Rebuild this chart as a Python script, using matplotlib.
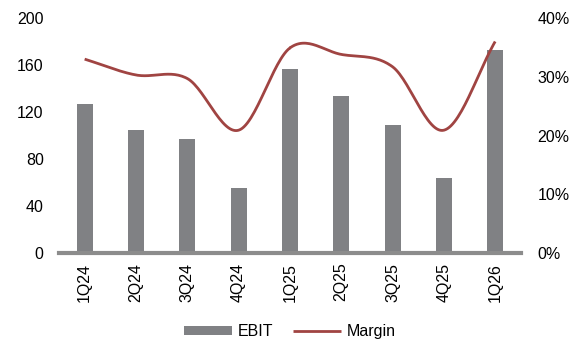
import numpy as np
import matplotlib
matplotlib.use("Agg")
import matplotlib.pyplot as plt
from matplotlib.ticker import FuncFormatter

plt.rcParams['font.family'] = ['Liberation Sans', 'DejaVu Sans']

# data
quarters = ['1Q24', '2Q24', '3Q24', '4Q24', '1Q25', '2Q25', '3Q25', '4Q25', '1Q26']
ebit = [127, 105, 97, 55, 157, 134, 109, 64, 173]
margin = [33.0, 30.3, 29.7, 20.9, 34.9, 33.8, 31.7, 20.9, 36.0]

bar_color = '#808184'
line_color = '#A04442'


def smooth(x, y, n=30):
    """Catmull-Rom spline through the points (Excel-style smoothed line)."""
    x = np.asarray(x, float)
    y = np.asarray(y, float)
    px = np.concatenate([[2 * x[0] - x[1]], x, [2 * x[-1] - x[-2]]])
    py = np.concatenate([[2 * y[0] - y[1]], y, [2 * y[-1] - y[-2]]])
    xs, ys = [], []
    t = np.linspace(0, 1, n)
    for i in range(1, len(px) - 2):
        for p, out in ((px, xs), (py, ys)):
            p0, p1, p2, p3 = p[i - 1], p[i], p[i + 1], p[i + 2]
            out.extend(0.5 * ((2 * p1) + (-p0 + p2) * t
                              + (2 * p0 - 5 * p1 + 4 * p2 - p3) * t ** 2
                              + (-p0 + 3 * p1 - 3 * p2 + p3) * t ** 3))
    return np.array(xs), np.array(ys)


fig = plt.figure(figsize=(5.8, 3.44), dpi=100)
ax = fig.add_axes([0.1017, 0.2645, 0.7963, 0.6832])
ax2 = ax.twinx()

x = np.arange(len(quarters))
ax.bar(x, ebit, width=0.31, color=bar_color, label='EBIT', zorder=2)
sx, sy = smooth(x, margin)
ax2.plot(sx, sy, color=line_color, lw=2.0, label='Margin', solid_capstyle='butt')

ax.set_xlim(-0.5, len(quarters) - 0.5)
ax.set_ylim(0, 200)
ax.set_yticks(range(0, 201, 40))
ax2.set_ylim(0, 40)
ax2.set_yticks(range(0, 41, 10))
ax2.yaxis.set_major_formatter(FuncFormatter(lambda v, p: f'{v:.0f}%'))

ax.set_xticks(x)
ax.set_xticklabels(quarters, rotation=90)

for a in (ax, ax2):
    for s in ('top', 'left', 'right'):
        a.spines[s].set_visible(False)
    a.tick_params(length=0, labelsize=11.5, colors='black')
ax2.spines['bottom'].set_visible(False)
ax.spines['bottom'].set_color('#8c8c8c')
ax.spines['bottom'].set_linewidth(3)
ax.tick_params(axis='y', pad=11)
ax.tick_params(axis='x', pad=7)
ax2.tick_params(axis='y', pad=12)

h1, l1 = ax.get_legend_handles_labels()
h2, l2 = ax2.get_legend_handles_labels()
fig.legend(h1 + h2, l1 + l2, loc='center', bbox_to_anchor=(0.5, 0.035), ncol=2,
           frameon=False, fontsize=11.5, handlelength=3.0, handleheight=0.5,
           columnspacing=1.2, handletextpad=0.4)

fig.savefig('out.png', dpi=100)
